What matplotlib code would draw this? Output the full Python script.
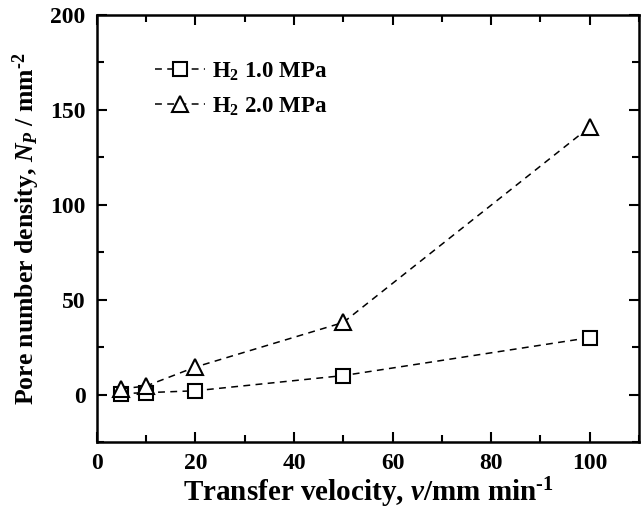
import matplotlib
matplotlib.use("Agg")
import matplotlib.pyplot as plt
from matplotlib.ticker import MultipleLocator

# transfer velocity (mm/min)
velocity = [5, 10, 20, 50, 100]
# pore number density (1/mm^2)
np_1mpa = [0.5, 1, 2, 10, 30]
np_2mpa = [3, 4.5, 14.5, 38, 141]
labels = [r"H$_2$ 1.0 MPa", r"H$_2$ 2.0 MPa"]

plt.rcParams["font.family"] = "Liberation Serif"
plt.rcParams["font.weight"] = "bold"
plt.rcParams["axes.labelweight"] = "bold"
plt.rcParams["mathtext.fontset"] = "custom"
plt.rcParams["mathtext.rm"] = "Liberation Serif:bold"
plt.rcParams["mathtext.it"] = "Liberation Serif:italic:bold"
plt.rcParams["mathtext.bf"] = "Liberation Serif:bold"

fig = plt.figure(figsize=(6.41, 5.09), dpi=100)
ax = fig.add_axes([0.151, 0.1316, 0.846, 0.839])

line_kw = dict(color="black", linestyle=(0, (4.5, 3.5)), linewidth=1.1,
               markerfacecolor="white", markeredgecolor="black", markeredgewidth=1.5)
ax.plot(velocity, np_1mpa, marker="s", markersize=10, label=labels[0], **line_kw)
ax.plot(velocity, np_2mpa, marker="^", markersize=12, label=labels[1], **line_kw)

ax.set_xlim(0, 110)
ax.set_ylim(-25, 200)
ax.xaxis.set_major_locator(MultipleLocator(20))
ax.xaxis.set_minor_locator(MultipleLocator(10))
ax.yaxis.set_major_locator(MultipleLocator(50))
ax.yaxis.set_minor_locator(MultipleLocator(25))
ax.set_xticks([0, 20, 40, 60, 80, 100])
ax.tick_params(which="both", direction="in", top=True, right=True, width=1.5, labelsize=17)
ax.tick_params(which="major", length=7, pad=8)
ax.tick_params(which="minor", length=5)
for s in ax.spines.values():
    s.set_linewidth(1.8)

ax.set_xlabel(r"Transfer velocity, $v$/mm min$^{\text{-}1}$", fontsize=21, labelpad=1)
ax.set_ylabel(r"Pore number density, $N_P$ / mm$^{\text{-}2}$", fontsize=18.5, labelpad=6)

ax.legend(loc="upper left", bbox_to_anchor=(0.09, 0.915), frameon=False, fontsize=16.5,
          handlelength=2.2, handletextpad=0.3, labelspacing=0.55, borderaxespad=0)

fig.savefig("out.png", dpi=100)
